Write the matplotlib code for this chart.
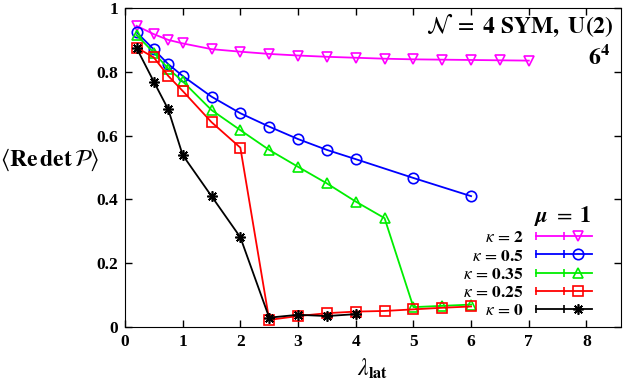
import numpy as np
import matplotlib
matplotlib.use("Agg")
import matplotlib.pyplot as plt
from matplotlib.lines import Line2D
from matplotlib.legend_handler import HandlerLine2D, HandlerTuple

plt.rcParams['font.family'] = 'Liberation Serif'
plt.rcParams['mathtext.fontset'] = 'stix'

# kappa = 2
x_k2 = [0.2, 0.5, 0.75, 1, 1.5, 2, 2.5, 3, 3.5, 4, 4.5, 5, 5.5, 6, 6.5, 7]
y_k2 = [0.944, 0.918, 0.900, 0.889, 0.871, 0.863, 0.856, 0.851, 0.847, 0.844,
        0.841, 0.839, 0.838, 0.837, 0.836, 0.835]
# kappa = 0.5
x_k05 = [0.2, 0.5, 0.75, 1, 1.5, 2, 2.5, 3, 3.5, 4, 5, 6]
y_k05 = [0.924, 0.870, 0.824, 0.787, 0.722, 0.670, 0.628, 0.589, 0.555, 0.526,
         0.467, 0.410]
# kappa = 0.35
x_k035 = [0.2, 0.5, 0.75, 1, 1.5, 2, 2.5, 3, 3.5, 4, 4.5, 5, 5.5, 6]
y_k035 = [0.915, 0.860, 0.810, 0.770, 0.680, 0.617, 0.555, 0.502, 0.450, 0.393,
          0.341, 0.062, 0.066, 0.070]
# kappa = 0.25
x_k025 = [0.2, 0.5, 0.75, 1, 1.5, 2, 2.5, 3, 3.5, 4, 4.5, 5, 5.5, 6]
y_k025 = [0.876, 0.845, 0.787, 0.740, 0.642, 0.562, 0.022, 0.034, 0.043, 0.048,
          0.050, 0.055, 0.060, 0.064]
# kappa = 0
x_k0 = [0.2, 0.5, 0.75, 1, 1.5, 2, 2.5, 3, 3.5, 4]
y_k0 = [0.875, 0.769, 0.682, 0.539, 0.410, 0.281, 0.029, 0.038, 0.034, 0.040]

series = [
    (x_k2, y_k2, '#ff00ff', 'v', r'$\kappa\,=\,\mathbf{2}$'),
    (x_k05, y_k05, '#0000ff', 'o', r'$\kappa\,=\,\mathbf{0.5}$'),
    (x_k035, y_k035, '#00ee00', '^', r'$\kappa\,=\,\mathbf{0.35}$'),
    (x_k025, y_k025, '#ff0000', 's', r'$\kappa\,=\,\mathbf{0.25}$'),
    (x_k0, y_k0, '#000000', (8, 2, 0), r'$\kappa\,=\,\mathbf{0}$'),
]

fig = plt.figure(figsize=(6.28, 3.81), dpi=100)
ax = fig.add_axes([0.199, 0.142, 0.790, 0.837])

handles = []
labels = []
hmap = {}
for xs, ys, c, m, lab in series:
    ax.plot(xs, ys, color=c, lw=1.3, marker=m, ms=7.5, mfc='none', mec=c, mew=1.2)
    main = Line2D([], [], color=c, lw=1.3, marker=m, ms=7.5, mfc='none', mec=c, mew=1.2)
    caps = Line2D([], [], color=c, lw=1.3, marker='|', ms=6, mew=1.2)
    hmap[caps] = HandlerLine2D(numpoints=2, marker_pad=0.0)
    handles.append((caps, main))
    labels.append(lab)

hmap[tuple] = HandlerTuple(ndivide=None, pad=0)
leg = ax.legend(handles, labels, handler_map=hmap, loc='lower right',
                bbox_to_anchor=(0.972, -0.025), frameon=False, markerfirst=False,
                numpoints=1, handlelength=3.2, handletextpad=0.7, labelspacing=0.12,
                fontsize=12.5, title=r'$\boldsymbol{\mu}\ =\ \mathbf{1}$',
                alignment='right')
leg.get_title().set_fontsize(16)
leg._legend_handle_box.sep = 2

ax.text(0.985, 0.945, r'$\mathcal{N}\ =\ \mathbf{4\ SYM,\ U(2)}$', transform=ax.transAxes,
        ha='right', va='center', fontsize=17)
ax.text(0.978, 0.845, r'$\mathbf{6^4}$', transform=ax.transAxes,
        ha='right', va='center', fontsize=17)

ax.set_xlim(0, 8.6)
ax.set_ylim(0, 1)
ax.set_xticks(range(0, 9))
ax.set_yticks([0, 0.2, 0.4, 0.6, 0.8, 1])
ax.set_yticklabels(['0', '0.2', '0.4', '0.6', '0.8', '1'])
ax.tick_params(direction='in', top=True, right=True, length=5, width=1,
               labelsize=12.5, pad=5)
for t in ax.get_xticklabels() + ax.get_yticklabels():
    t.set_fontweight('bold')

ax.set_xlabel(r'$\lambda_{\mathbf{lat}}$', fontsize=17, va='center')
ax.xaxis.set_label_coords(0.5, -0.13)
ax.set_ylabel(r'$\langle\mathbf{Re\,det}\,\mathcal{P}\rangle$', fontsize=17,
              rotation=0, ha='center', va='center')
ax.yaxis.set_label_coords(-0.152, 0.523)

fig.savefig('out.png', dpi=100)
